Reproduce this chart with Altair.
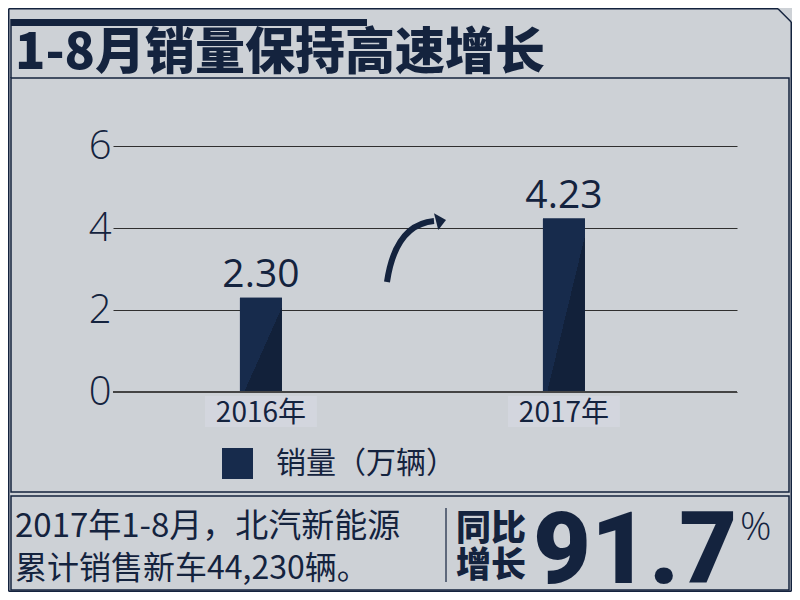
import altair as alt
import pandas as pd

# ---- data ----
years = ["2016年", "2017年"]
sales = [2.30, 4.23]
value_labels = ["2.30", "4.23"]
series_name = "销量（万辆）"
y_ticks = [0, 2, 4, 6]
title_text = "1-8月销量保持高速增长"
note_lines = ["2017年1-8月，北汽新能源", "累计销售新车44,230辆。"]
badge_lines = ["同比", "增长"]
growth_number = "91.7"
growth_unit = "%"

# ---- style ----
NAVY = "#14233e"
BAR = "#172b4c"
BAR_DARK = "#12213a"
BG = "#cdd1d6"
LABEL_BG = "#d3d6de"
CJK = "Noto Sans CJK SC"
LAT = "Open Sans"

OX, OY = 113, 146  # page position of plot origin
W, H = 624, 246


def px(x):
    return x - OX


def py(y):
    return y - OY


df = pd.DataFrame({"year": years, "sales": sales, "label": value_labels,
                   "series": [series_name] * len(years)})
one = alt.Data(values=[{"k": 1}])

X = alt.X("year:N", sort=years,
          scale=alt.Scale(domain=years, paddingInner=0.8614, paddingOuter=0.4604, align=0.455),
          axis=None)
Y = alt.Y("sales:Q", scale=alt.Scale(domain=[0, 6], nice=False, zero=True),
          axis=alt.Axis(values=y_ticks, grid=True, gridColor="#2f2f2f", gridWidth=1,
                        domain=False, ticks=False, labelFontSize=40, labelFont=LAT,
                        labelFontWeight=300, labelColor=NAVY, labelPadding=2, title=None,
                        format="d"))

base = alt.Chart(df)

bars = base.mark_bar().encode(
    x=X, y=Y,
    color=alt.Color("series:N", scale=alt.Scale(range=[BAR]),
                    legend=alt.Legend(orient="none", legendX=px(222), legendY=py(448),
                                      title=None, symbolType="square", symbolSize=961,
                                      symbolStrokeWidth=0, labelFontSize=30, labelFont=CJK,
                                      labelColor=NAVY, labelOffset=23, padding=0,
                                      labelLimit=400, symbolOpacity=1)),
)

shade = base.mark_bar(color=alt.Gradient(
    gradient="linear",
    stops=[alt.GradientStop(color=BAR, offset=0), alt.GradientStop(color=BAR, offset=0.55),
           alt.GradientStop(color=BAR_DARK, offset=0.55), alt.GradientStop(color=BAR_DARK, offset=1)],
    x1=0, y1=0, x2=1, y2=1)).encode(x=X, y=Y)

zero_line = base.mark_rule(color="#444444", strokeWidth=2).encode(
    y=alt.datum(0), x=alt.value(0), x2=alt.value(W))

value_text = base.mark_text(dy=-11, baseline="alphabetic", fontSize=39, font=LAT,
                            color=NAVY).encode(x=X, y=Y, text="label:N")

label_boxes = base.mark_bar(width=112, color=LABEL_BG).encode(
    x=X, y=alt.value(py(396)), y2=alt.value(py(427)))

label_text = base.mark_text(baseline="alphabetic", fontSize=28, font=CJK, color=NAVY).encode(
    x=X, y=alt.value(py(422)), text="year:N")

# ---- decorations ----
deco = []


def rule(x1, y1, x2, y2, w=1.5, c=NAVY):
    return alt.Chart(one).mark_rule(color=c, strokeWidth=w).encode(
        x=alt.value(px(x1)), y=alt.value(py(y1)), x2=alt.value(px(x2)), y2=alt.value(py(y2)))


def box(x1, y1, x2, y2, w=1.5):
    return alt.Chart(one).mark_rect(fillOpacity=0, stroke=NAVY, strokeWidth=w).encode(
        x=alt.value(px(x1)), y=alt.value(py(y1)), x2=alt.value(px(x2)), y2=alt.value(py(y2)))


# outer chamfered frame
deco += [rule(8.75, 8.75, 778, 8.75), rule(778, 8.75, 791.25, 22), rule(791.25, 22, 791.25, 591.25),
         rule(8.75, 591.25, 791.25, 591.25), rule(8.75, 8.75, 8.75, 591.25)]
# inner boxes
deco += [box(11, 78, 789, 492), box(11, 496, 789, 590), rule(11, 19, 11, 78)]
deco += [alt.Chart(one).mark_rect(color=NAVY).encode(
    x=alt.value(px(11)), x2=alt.value(px(367)), y=alt.value(py(19)), y2=alt.value(py(26)))]
# divider in bottom box
deco += [rule(446, 508, 446, 582, w=1.2)]


def text(s, x, y, size, font=CJK, weight="normal", align="left", baseline="alphabetic"):
    return alt.Chart(one).mark_text(text=s, fontSize=size, font=font, fontWeight=weight,
                                    align=align, baseline=baseline, color=NAVY).encode(
        x=alt.value(px(x)), y=alt.value(py(y)))


deco += [text(title_text, 15, 69, 50, weight=900)]
deco += [text(note_lines[0], 15, 537, 33), text(note_lines[1], 15, 579, 32)]
deco += [text(badge_lines[0], 491, 540, 35, weight=900, align="center"),
         text(badge_lines[1], 491, 577, 35, weight=900, align="center")]
deco += [text(growth_number, 533, 583, 100, font="Roboto", weight=900),
         text(growth_unit, 740, 540, 39, font=LAT, weight=300)]

# curved arrow (custom symbol shapes)
ARROW_SHAFT = "M -0.778 0.944 Q -0.542 -0.653 0.528 -0.75"
ARROW_HEAD = "M 0.861 -0.778 L 0.528 -0.964 L 0.647 -0.5 Z"
deco += [alt.Chart(one).mark_point(shape=ARROW_SHAFT, filled=False, size=5184, strokeWidth=6,
                                   color=NAVY, opacity=1).encode(
    x=alt.value(px(415)), y=alt.value(py(248))),
    alt.Chart(one).mark_point(shape=ARROW_HEAD, filled=True, size=5184, strokeWidth=1,
                              color=NAVY, opacity=1).encode(
    x=alt.value(px(415)), y=alt.value(py(248)))]

chart = alt.layer(label_boxes, bars, shade, zero_line, value_text, label_text, *deco).properties(
    width=W, height=H,
    padding={"left": OX - 8, "top": OY - 8, "right": 784 - (OX - 8) - W, "bottom": 584 - (OY - 8) - H},
    autosize=alt.AutoSizeParams(type="none"),
    background=BG,
).configure_view(stroke="transparent")

chart.save("out.html", embed_options={"renderer": "svg", "actions": False})
